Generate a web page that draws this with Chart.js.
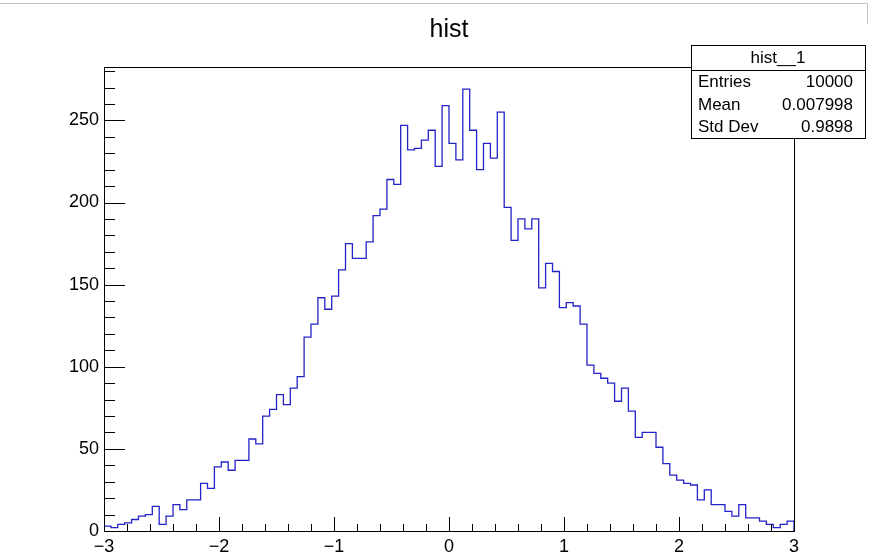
<!DOCTYPE html>
<html>
<head>
<meta charset="utf-8">
<script src="https://cdn.jsdelivr.net/npm/chart.js@4.4.1/dist/chart.umd.min.js"></script>
<style>
  body { margin: 0; background: #fff; }
  canvas { display: block; }
</style>
</head>
<body>
<canvas id="histChart" width="876" height="552"></canvas>
<script>
// histogram "hist": 100 bins from -3 to 3
const xMin = -3;
const xMax = 3;
const counts = [
  3, 2, 4, 5, 7, 9, 10, 15, 4, 9,
  16, 13, 19, 19, 29, 26, 39, 42, 37, 43,
  43, 56, 53, 70, 74, 83, 77, 87, 94, 118,
  126, 142, 135, 143, 159, 175, 166, 166, 176, 192,
  196, 214, 211, 247, 232, 233, 238, 244, 222, 259,
  236, 226, 269, 244, 220, 236, 227, 255, 197, 177,
  190, 184, 190, 148, 163, 158, 136, 139, 137, 126,
  101, 96, 93, 90, 79, 87, 73, 57, 60, 60,
  51, 41, 34, 31, 29, 28, 19, 25, 16, 16,
  12, 9, 16, 8, 8, 6, 4, 2, 4, 6
];
const statsTitle = 'hist__1';
const statsNames = ['Entries', 'Mean', 'Std Dev'];
const statsValues = ['10000', '0.007998', '0.9898'];
const yMax = 282.5;

const font = '"Liberation Sans", Arial, Helvetica, sans-serif';

// step points at the bin low edges
const binWidth = (xMax - xMin) / counts.length;
const points = [{x: xMin, y: 0}];
for (let i = 0; i < counts.length; i++) {
  points.push({x: xMin + i * binWidth, y: counts[i]});
}
points.push({x: xMax, y: counts[counts.length - 1]});
points.push({x: xMax, y: 0});

function minus(v) {
  return v < 0 ? '\u2212' + Math.abs(v) : String(v);
}

// ROOT-style frame, inner tick marks, title and stats box
const rootDecor = {
  id: 'rootDecor',
  afterDraw(chart) {
    const ctx = chart.ctx;
    const a = chart.chartArea;
    const xs = chart.scales.x;
    const ys = chart.scales.y;
    ctx.save();

    // window border at the top
    ctx.strokeStyle = '#c4c4c4';
    ctx.lineWidth = 1;
    ctx.beginPath();
    ctx.moveTo(0, 3.5);
    ctx.lineTo(868, 3.5);
    ctx.moveTo(867.5, 3.5);
    ctx.lineTo(867.5, 24);
    ctx.stroke();

    ctx.strokeStyle = '#000';
    ctx.lineWidth = 1;

    // frame
    ctx.strokeRect(Math.round(a.left) + 0.5, Math.round(a.top) + 0.5,
      Math.round(a.right - a.left), Math.round(a.bottom - a.top));

    // x ticks every 0.2
    ctx.beginPath();
    for (let k = 0; k <= 30; k++) {
      const v = xMin + k * 0.2;
      const px = Math.round(xs.getPixelForValue(v)) + 0.5;
      const len = (k % 5 === 0) ? 14 : 7;
      ctx.moveTo(px, a.bottom);
      ctx.lineTo(px, a.bottom - len);
    }
    // y ticks every 10
    for (let v = 0; v <= 280; v += 10) {
      const py = Math.round(ys.getPixelForValue(v)) + 0.5;
      const len = (v % 50 === 0) ? 21 : 11;
      ctx.moveTo(a.left, py);
      ctx.lineTo(a.left + len, py);
    }
    ctx.stroke();

    // title
    ctx.fillStyle = '#000';
    ctx.font = '25px ' + font;
    ctx.textAlign = 'center';
    ctx.textBaseline = 'alphabetic';
    ctx.fillText('hist', (a.left + a.right) / 2, 37);

    // stats box
    const bx = 691, by = 45, bw = 174, bh = 93;
    ctx.fillStyle = '#fff';
    ctx.fillRect(bx, by, bw, bh);
    ctx.strokeRect(bx + 0.5, by + 0.5, bw, bh);
    ctx.beginPath();
    ctx.moveTo(bx, by + 25.5);
    ctx.lineTo(bx + bw, by + 25.5);
    ctx.stroke();

    ctx.fillStyle = '#000';
    ctx.font = '17px ' + font;
    ctx.textAlign = 'center';
    ctx.fillText(statsTitle, bx + bw / 2, 63);
    const rows = [86.5, 110, 132];
    for (let i = 0; i < statsNames.length; i++) {
      ctx.textAlign = 'left';
      ctx.fillText(statsNames[i], 698, rows[i]);
      ctx.textAlign = 'right';
      ctx.fillText(statsValues[i], 853, rows[i]);
    }

    ctx.restore();
  }
};

const context = document.getElementById('histChart');

const data = {
  datasets: [{
    label: 'hist',
    data: points,
    stepped: true,
    fill: false,
    borderColor: 'rgb(35, 35, 200)',
    borderWidth: 1.3,
    pointRadius: 0,
    tension: 0
  }]
};

const config = {
  type: 'line',
  data: data,
  options: {
    responsive: false,
    animation: false,
    devicePixelRatio: 1,
    layout: { padding: { top: 67, right: 82, left: 0, bottom: 0 } },
    plugins: {
      legend: { display: false },
      tooltip: { enabled: false },
      title: { display: false }
    },
    scales: {
      x: {
        type: 'linear',
        min: xMin,
        max: xMax,
        grid: { display: false, drawTicks: false },
        border: { display: false },
        ticks: {
          stepSize: 1,
          padding: 5,
          maxRotation: 0,
          autoSkip: false,
          color: '#000',
          font: { family: font, size: 18 },
          callback: function(v) { return Number.isInteger(v) ? minus(v) : ''; }
        },
        afterFit: function(scale) { scale.height = 21; }
      },
      y: {
        type: 'linear',
        min: 0,
        max: yMax,
        grid: { display: false, drawTicks: false },
        border: { display: false },
        ticks: {
          stepSize: 50,
          includeBounds: false,
          padding: 5,
          color: '#000',
          font: { family: font, size: 18 },
          callback: function(v) { return v % 50 === 0 ? String(v) : ''; }
        },
        afterFit: function(scale) { scale.width = 104; }
      }
    }
  },
  plugins: [rootDecor]
};

const histChart = new Chart(context, config);
</script>
</body>
</html>
